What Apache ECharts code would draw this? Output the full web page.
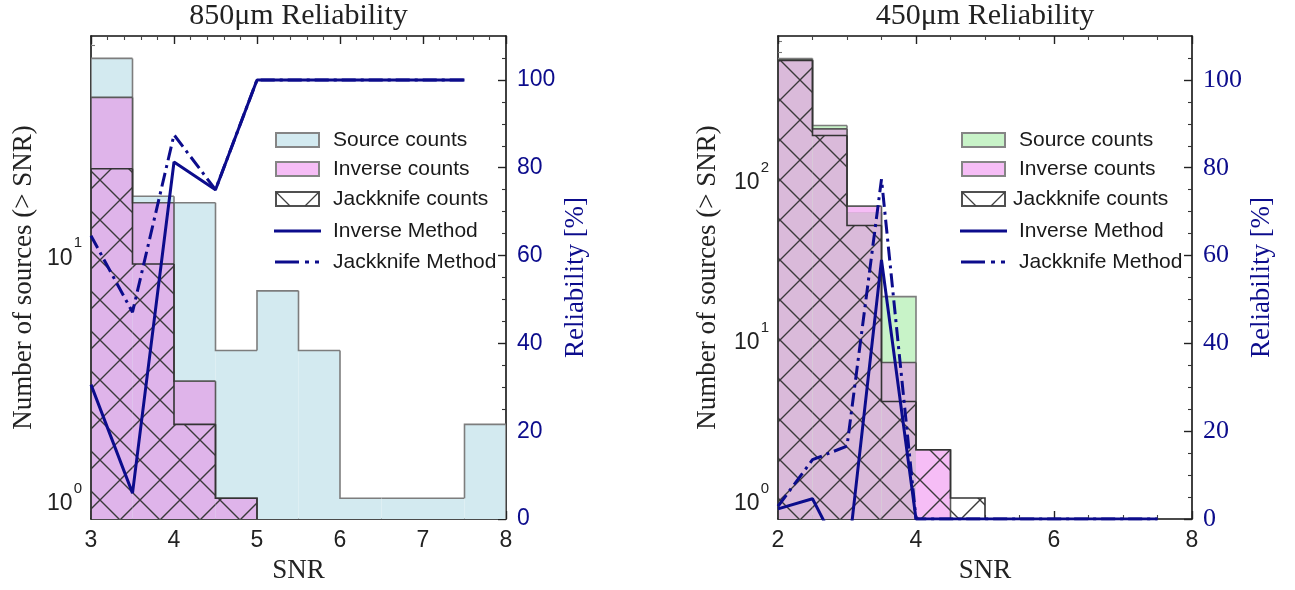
<!DOCTYPE html>
<html>
<head>
<meta charset="utf-8">
<script src="https://cdn.jsdelivr.net/npm/echarts@6/dist/echarts.min.js"></script>
<style>
  html, body { margin: 0; padding: 0; background: #ffffff; }
  #chart { width: 1295px; height: 590px; }
</style>
</head>
<body>
<div id="chart"></div>
<script>
// ---- data: counts per SNR bin (lower bin edges, width 0.5) ----
const binWidth = 0.5;

const snr850 = [3, 3.5, 4, 4.5, 5, 5.5, 6, 6.5, 7, 7.5];
const source850 = [62, 17, 16, 4, 7, 4, 1, 1, 1, 2];
const inverse850 = [43, 16, 3, 1, 0, 0, 0, 0, 0, 0];
const jackknife850 = [22, 9, 2, 1, 0, 0, 0, 0, 0, 0];
const relInverse850 = [30.6, 5.9, 81.3, 75, 100, 100, 100, 100, 100, 100];
const relJackknife850 = [64.5, 47.1, 87.5, 75, 100, 100, 100, 100, 100, 100];

const snr450 = [2, 2.5, 3, 3.5, 4, 4.5, 5, 5.5, 6, 6.5, 7, 7.5];
const source450 = [550, 210, 60, 18, 0, 0, 0, 0, 0, 0, 0, 0];
const inverse450 = [538, 200, 66, 7, 2, 0, 0, 0, 0, 0, 0, 0];
const jackknife450 = [535, 182, 50, 4, 2, 1, 0, 0, 0, 0, 0, 0];
const relInverse450 = [2.3, 4.6, -10.7, 59, 0, 0, 0, 0, 0, 0, 0, 0];
const relJackknife450 = [2.9, 13.5, 16.6, 77.4, 0, 0, 0, 0, 0, 0, 0, 0];

// ---- tick labels ----
const xTicks850 = [3, 4, 5, 6, 7, 8];
const xTicks450 = [2, 4, 6, 8];
const logTicks850 = [1, 10];
const logMinor850 = [2, 3, 4, 5, 6, 7, 8, 9, 20, 30, 40, 50, 60, 70];
const logTicks450 = [1, 10, 100];
const logMinor450 = [2, 3, 4, 5, 6, 7, 8, 9, 20, 30, 40, 50, 60, 70, 80, 90, 200, 300, 400, 500, 600, 700];
const relTicks = [0, 20, 40, 60, 80, 100];
const relMinor = [5, 10, 15, 25, 30, 35, 45, 50, 55, 65, 70, 75, 85, 90, 95, 105];

// ---- styling ----
const navy = '#0c0c8c';
const ink = '#222222';
const serif = 'Liberation Serif';
const sans = 'Liberation Sans';
const colors850 = { source: '#d3eaf0', overlap: '#dfb4ea', pink: '#f6bdf6' };
const colors450 = { source: '#c8f3c8', overlap: '#dabada', pink: '#f6bdf6' };

// cross-hatch tile for the jackknife histogram
function hatchTile() {
  const T = 40;
  const c = document.createElement('canvas');
  c.width = T; c.height = T;
  const g = c.getContext('2d');
  g.strokeStyle = '#3a3a3a';
  g.lineWidth = 1.4;
  g.beginPath();
  g.moveTo(-2, -2); g.lineTo(T + 2, T + 2);
  g.moveTo(T + 2, -2); g.lineTo(-2, T + 2);
  g.stroke();
  return c;
}
const hatch = { image: hatchTile(), repeat: 'repeat' };

// item: [x0, x1, value, prevValue, nextValue, referenceValue]
function histData(edges, values, ref) {
  const out = [];
  edges.forEach((x, i) => {
    if (values[i] > 0) {
      out.push([x, x + binWidth, values[i],
        i > 0 ? values[i - 1] : 0,
        i < values.length - 1 ? values[i + 1] : 0,
        ref ? ref[i] : 0]);
    }
  });
  return out;
}

// step-outlined histogram bin
function histRenderer(kind, palette, stroke) {
  return function (params, api) {
    const x0 = api.value(0), x1 = api.value(1), v = api.value(2);
    const vp = api.value(3), vn = api.value(4), ref = api.value(5);
    const cs = params.coordSys;
    const bottom = cs.y + cs.height;
    const yOf = (val) => (val > 0 ? api.coord([x0, val])[1] : bottom);
    const px0 = api.coord([x0, v])[0];
    const px1 = api.coord([x1, v])[0];
    const yv = yOf(v);
    const children = [];
    if (kind === 'source') {
      children.push({ type: 'rect', shape: { x: px0, y: yv, width: px1 - px0, height: bottom - yv },
        style: { fill: palette.source } });
    } else if (kind === 'inverse') {
      const yLow = yOf(Math.min(v, ref));
      if (ref > 0) {
        children.push({ type: 'rect', shape: { x: px0, y: yLow, width: px1 - px0, height: bottom - yLow },
          style: { fill: palette.overlap } });
      }
      if (v > ref) {
        const yr = yOf(ref);
        children.push({ type: 'rect', shape: { x: px0, y: yv, width: px1 - px0, height: yr - yv },
          style: { fill: palette.pink } });
      }
    } else {
      children.push({ type: 'rect', shape: { x: px0, y: yv, width: px1 - px0, height: bottom - yv },
        style: { fill: hatch } });
    }
    const pts = [[px0, yOf(vp)], [px0, yv], [px1, yv]];
    if (!(vn > 0)) pts.push([px1, bottom]);
    children.push({ type: 'polyline', shape: { points: pts },
      style: { fill: null, stroke: stroke, lineWidth: 1.6 } });
    return { type: 'group', children: children };
  };
}

function histSeries(name, kind, edges, values, ref, palette, stroke, xi, yi, z) {
  return {
    name: name, type: 'custom', xAxisIndex: xi, yAxisIndex: yi, z: z, clip: true,
    encode: { x: [0, 1], y: 2 },
    renderItem: histRenderer(kind, palette, stroke),
    data: histData(edges, values, ref)
  };
}

function lineSeries(name, edges, values, dashed, xi, yi) {
  return {
    name: name, type: 'line', xAxisIndex: xi, yAxisIndex: yi, z: 6, clip: true,
    symbol: 'none', showSymbol: false,
    lineStyle: { color: navy, width: 3, type: dashed ? [14, 5, 3, 5] : 'solid' },
    data: edges.map((x, i) => [x, values[i]])
  };
}

const frameLine = { show: true, onZero: false, lineStyle: { color: '#111', width: 1.6 } };

function xAxes(gridIndex, min, max, interval, minorSplit, labels) {
  const base = {
    gridIndex: gridIndex, type: 'value', min: min, max: max, interval: interval,
    axisLine: frameLine,
    axisTick: { show: true, inside: true, length: 8, lineStyle: { color: '#222', width: 1.4 } },
    minorTick: { show: true, splitNumber: minorSplit, length: 4, lineStyle: { color: '#444', width: 1.1 } },
    splitLine: { show: false }, minorSplitLine: { show: false }
  };
  return [
    Object.assign({}, base, {
      position: 'bottom',
      axisLabel: { customValues: labels, color: ink, fontFamily: sans, fontSize: 23, margin: 10 },
      name: 'SNR', nameLocation: 'middle', nameGap: 38,
      nameTextStyle: { fontFamily: serif, fontSize: 27, color: ink }
    }),
    Object.assign({}, base, { position: 'top', axisLabel: { show: false } })
  ];
}

function logAxes(gridIndex, min, max, majors, minors, nameGap) {
  return [
    {
      gridIndex: gridIndex, type: 'log', logBase: 10, position: 'left', min: min, max: max,
      axisLine: frameLine,
      axisTick: { show: true, inside: true, length: 8, customValues: majors, lineStyle: { color: '#555', width: 1.4 } },
      axisLabel: {
        customValues: majors, margin: 9,
        formatter: (v) => '{b|10}{s|' + Math.round(Math.log10(v)) + '}',
        rich: {
          b: { fontFamily: sans, fontSize: 23, color: ink, lineHeight: 34, verticalAlign: 'bottom' },
          s: { fontFamily: sans, fontSize: 15, color: ink, lineHeight: 34, verticalAlign: 'top', padding: [0, 0, 0, 1] }
        }
      },
      splitLine: { show: false },
      name: 'Number of sources (> SNR)', nameLocation: 'middle', nameRotate: 90, nameGap: nameGap,
      nameTextStyle: { fontFamily: serif, fontSize: 27, color: ink }
    },
    {
      gridIndex: gridIndex, type: 'log', logBase: 10, position: 'left', min: min, max: max,
      axisLine: { show: false },
      axisTick: { show: true, inside: true, length: 4, customValues: minors, lineStyle: { color: '#777', width: 1.1 } },
      axisLabel: { show: false }, splitLine: { show: false }
    }
  ];
}

function relAxes(gridIndex, labelFont, labelSize, nameSize, nameGap) {
  return [
    {
      gridIndex: gridIndex, type: 'value', position: 'right', min: 0, max: 110,
      axisLine: frameLine,
      axisTick: { show: true, inside: true, length: 8, customValues: relTicks, lineStyle: { color: '#222', width: 1.4 } },
      axisLabel: { customValues: relTicks, color: navy, fontFamily: labelFont, fontSize: labelSize, margin: 11 },
      splitLine: { show: false },
      name: 'Reliability [%]', nameLocation: 'middle', nameRotate: 90, nameGap: nameGap,
      nameTextStyle: { fontFamily: serif, fontSize: nameSize, color: navy }
    },
    {
      gridIndex: gridIndex, type: 'value', position: 'right', min: 0, max: 110,
      axisLine: { show: false },
      axisTick: { show: true, inside: true, length: 4, customValues: relMinor, lineStyle: { color: '#333', width: 1.1 } },
      axisLabel: { show: false }, splitLine: { show: false }
    }
  ];
}

function legendGraphics(boxX, textX, jackTextX, rows, srcColor) {
  const w = 43, h = 14;
  const txt = (s, x, y) => ({ type: 'text', z: 100,
    style: { text: s, x: x, y: y, fill: '#1a1a1a', fontFamily: sans, fontSize: 21, align: 'left', verticalAlign: 'middle' } });
  const box = (y, fill, stroke) => ({ type: 'rect', z: 100,
    shape: { x: boxX, y: y - h / 2, width: w, height: h }, style: { fill: fill, stroke: stroke, lineWidth: 2 } });
  const r = rows;
  return [
    box(r[0], srcColor, '#858585'), txt('Source counts', textX, r[0]),
    box(r[1], '#f6bdf6', '#858585'), txt('Inverse counts', textX, r[1]),
    box(r[2], '#ffffff', '#505050'),
    { type: 'polyline', z: 101, shape: { points: [[boxX, r[2] - h / 2], [boxX + h, r[2] + h / 2]] },
      style: { stroke: '#404040', lineWidth: 1.3, fill: null } },
    { type: 'polyline', z: 101, shape: { points: [[boxX + w - h, r[2] + h / 2], [boxX + w, r[2] - h / 2]] },
      style: { stroke: '#404040', lineWidth: 1.3, fill: null } },
    txt('Jackknife counts', jackTextX, r[2]),
    { type: 'polyline', z: 100, shape: { points: [[boxX - 2, r[3]], [boxX + w + 2, r[3]]] },
      style: { stroke: navy, lineWidth: 3, fill: null } },
    txt('Inverse Method', textX, r[3]),
    { type: 'polyline', z: 100, shape: { points: [[boxX - 1, r[4]], [boxX + w + 2, r[4]]] },
      style: { stroke: navy, lineWidth: 3, fill: null, lineDash: [24, 6, 4, 6, 4, 100] } },
    txt('Jackknife Method', textX, r[4])
  ];
}

const chart = echarts.init(document.getElementById('chart'), null, { renderer: 'canvas' });

const option = {
  animation: false,
  backgroundColor: '#ffffff',
  grid: [
    { left: 91, top: 36, width: 415, height: 483 },
    { left: 778, top: 36, width: 414, height: 483 }
  ],
  xAxis: [].concat(
    xAxes(0, 3, 8, 1, 5, xTicks850),
    xAxes(1, 2, 8, 2, 4, xTicks450)
  ),
  yAxis: [].concat(
    logAxes(0, 0.823, 76.5, logTicks850, logMinor850, 54),
    relAxes(0, sans, 23, 27, 56),
    logAxes(1, 0.74, 759, logTicks450, logMinor450, 57),
    relAxes(1, serif, 26, 27, 56)
  ),
  series: [
    histSeries('Source counts', 'source', snr850, source850, null, colors850, '#7d7d7d', 0, 0, 2),
    histSeries('Inverse counts', 'inverse', snr850, inverse850, source850, colors850, '#5a5a5a', 0, 0, 3),
    histSeries('Jackknife counts', 'jack', snr850, jackknife850, null, colors850, '#333333', 0, 0, 4),
    lineSeries('Inverse Method', snr850, relInverse850, false, 0, 2),
    lineSeries('Jackknife Method', snr850, relJackknife850, true, 0, 2),

    histSeries('Source counts', 'source', snr450, source450, null, colors450, '#7d7d7d', 2, 4, 2),
    histSeries('Inverse counts', 'inverse', snr450, inverse450, source450, colors450, '#5a5a5a', 2, 4, 3),
    histSeries('Jackknife counts', 'jack', snr450, jackknife450, null, colors450, '#333333', 2, 4, 4),
    lineSeries('Inverse Method', snr450, relInverse450, false, 2, 6),
    lineSeries('Jackknife Method', snr450, relJackknife450, true, 2, 6)
  ],
  graphic: [].concat(
    [
      { type: 'text', style: { text: '850μm Reliability', x: 298.5, y: 16, align: 'center', verticalAlign: 'middle',
        fill: ink, fontFamily: serif, fontSize: 30 } },
      { type: 'text', style: { text: '450μm Reliability', x: 985, y: 16, align: 'center', verticalAlign: 'middle',
        fill: ink, fontFamily: serif, fontSize: 30 } }
    ],
    legendGraphics(276, 333, 333, [140, 169, 199, 231, 262], colors850.source),
    legendGraphics(962, 1019, 1013, [140, 169, 199, 231, 262], colors450.source)
  )
};

chart.setOption(option);
</script>
</body>
</html>
